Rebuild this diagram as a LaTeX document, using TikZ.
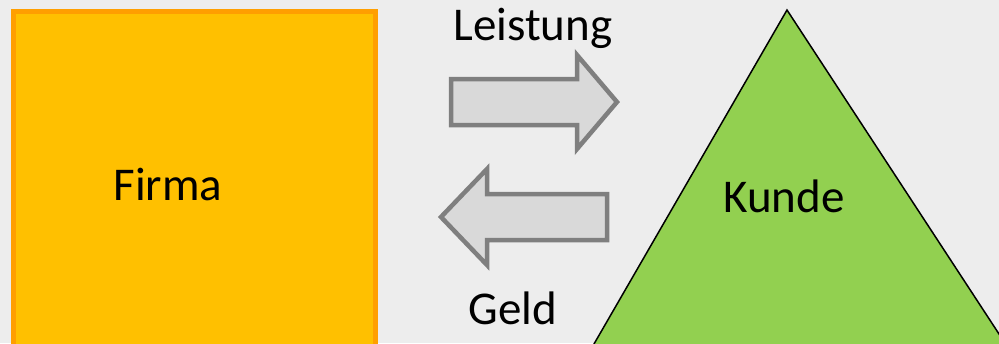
\documentclass[tikz,border=0pt]{standalone}
\usepackage{fontspec}
\setmainfont{Carlito}
\definecolor{bg}{HTML}{EDEDED}
\definecolor{firmafill}{HTML}{FFC000}
\definecolor{firmaline}{HTML}{FF9F00}
\definecolor{kundefill}{HTML}{92D050}
\definecolor{arrowfill}{HTML}{D9D9D9}
\definecolor{arrowline}{HTML}{7F7F7F}
\tikzset{
  lbl/.style={anchor=base, inner sep=0pt, font=\fontsize{47}{53}\selectfont},
  blockarrow/.style={fill=arrowfill, draw=arrowline, line width=4.5pt, line join=miter},
}
\begin{document}
\begin{tikzpicture}[x=1pt,y=-1pt]
\useasboundingbox (0,0) rectangle (999,343);
\clip (0,0) rectangle (999,343);
\fill[bg] (0,0) rectangle (999,343);
% Firma square
\draw[fill=firmafill, draw=firmaline, line width=5pt] (13.5,11.5) rectangle (375.5,370);
% Kunde triangle
\draw[fill=kundefill, draw=black, line width=1.5pt, line join=miter]
  (787,10) -- (583,363) -- (1018,363) -- cycle;
% right arrow
\draw[blockarrow] (451,79) -- (577,79) -- (577,55) -- (617,102) -- (577,149) -- (577,125) -- (451,125) -- cycle;
% left arrow
\draw[blockarrow] (607,194) -- (487,194) -- (487,169) -- (441,217) -- (487,265) -- (487,240) -- (607,240) -- cycle;
% labels
\node[lbl] (leistung) at (533,40) {Leistung};
\node[lbl] (firma) at (168,200) {Firma};
\node[lbl] (kunde) at (784,212) {Kunde};
\node[lbl] (geld) at (513,324) {Geld};
\end{tikzpicture}
\end{document}
